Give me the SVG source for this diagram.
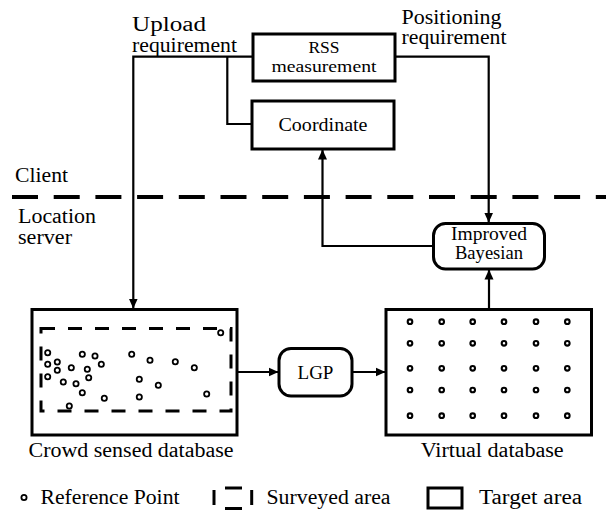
<svg xmlns="http://www.w3.org/2000/svg" width="606" height="511" viewBox="0 0 606 511">
<style>
text{font-family:'Liberation Serif','Times New Roman',Tinos,'DejaVu Serif','Noto Serif',FreeSerif,serif;fill:#000}
.lbl{font-size:20px}
.box{font-size:19px;text-anchor:middle}
.sm{font-size:17.5px}
.b{fill:#fff;stroke:#000;stroke-width:3}
.c{fill:none;stroke:#000;stroke-width:2.2}
.rp{fill:none;stroke:#000;stroke-width:1.8}
.vp{fill:none;stroke:#000;stroke-width:2.1}
</style>
<defs>
<marker id="ah" markerWidth="10" markerHeight="10" refX="10" refY="5" orient="auto" markerUnits="userSpaceOnUse">
<path d="M0,0.5 L10,5 L0,9.5 z" fill="#000"/>
</marker>
</defs>
<rect width="606" height="511" fill="#fff"/>

<g id="labels">
<text class="lbl" x="132" y="30.7" textLength="74" lengthAdjust="spacingAndGlyphs">Upload</text>
<text class="lbl" x="132" y="51.5" textLength="105" lengthAdjust="spacingAndGlyphs">requirement</text>
<text class="lbl" x="401.5" y="23.5" textLength="100" lengthAdjust="spacingAndGlyphs">Positioning</text>
<text class="lbl" x="401.5" y="43.5" textLength="105" lengthAdjust="spacingAndGlyphs">requirement</text>
<text class="lbl" x="15" y="181.7" textLength="53" lengthAdjust="spacingAndGlyphs">Client</text>
<text class="lbl" x="18" y="223.3" textLength="78" lengthAdjust="spacingAndGlyphs">Location</text>
<text class="lbl" x="18" y="243.5" textLength="54" lengthAdjust="spacingAndGlyphs">server</text>
</g>

<line x1="12" y1="197" x2="606" y2="197" stroke="#000" stroke-width="4" stroke-dasharray="26 15.7"/>

<g id="connectors">
<path class="c" d="M253 56.7 H133.3 V308.5" marker-end="url(#ah)"/>
<path class="c" d="M227.3 56.7 V124 H252"/>
<path class="c" d="M395 56.7 H488.7 V222.5" marker-end="url(#ah)"/>
<path class="c" d="M433 246 H322.5 V149.5" marker-end="url(#ah)"/>
<path class="c" d="M489 309 V269.5" marker-end="url(#ah)"/>
<path class="c" d="M237 372 H278.5" marker-end="url(#ah)"/>
<path class="c" d="M352 372 H385.5" marker-end="url(#ah)"/>
</g>

<g id="rss">
<rect class="b" x="253" y="34" width="142" height="47"/>
<text class="box sm" x="324" y="52.5">RSS</text>
<text class="box sm" x="324" y="72" textLength="105" lengthAdjust="spacingAndGlyphs">measurement</text>
</g>

<g id="coordinate">
<rect class="b" x="252" y="101" width="142" height="48"/>
<text class="box" x="323" y="131" textLength="89" lengthAdjust="spacingAndGlyphs">Coordinate</text>
</g>

<g id="bayesian">
<rect class="b" x="433.5" y="223.5" width="111" height="45.5" rx="12"/>
<text class="box" x="489" y="240" textLength="76" lengthAdjust="spacingAndGlyphs">Improved</text>
<text class="box" x="489" y="259" textLength="68" lengthAdjust="spacingAndGlyphs">Bayesian</text>
</g>

<g id="lgp">
<rect class="b" x="279" y="348.5" width="73" height="47.5" rx="12"/>
<text class="box" x="315.5" y="378.5">LGP</text>
</g>

<g id="crowd">
<rect class="b" x="32" y="309.5" width="205" height="125.5"/>
<rect x="41" y="328.5" width="190" height="82.5" fill="none" stroke="#000" stroke-width="3" stroke-dasharray="14 13"/>
<g class="rp">
<circle cx="220.7" cy="332.7" r="2.6"/>
<circle cx="47.7" cy="352.7" r="2.6"/>
<circle cx="82.3" cy="354.3" r="2.6"/>
<circle cx="95" cy="356" r="2.6"/>
<circle cx="131.7" cy="354.3" r="2.6"/>
<circle cx="47.7" cy="364.3" r="2.6"/>
<circle cx="57.3" cy="362" r="2.6"/>
<circle cx="101.3" cy="364.3" r="2.6"/>
<circle cx="150" cy="360.3" r="2.6"/>
<circle cx="175.3" cy="361.7" r="2.6"/>
<circle cx="71.3" cy="367.7" r="2.6"/>
<circle cx="87.3" cy="369.3" r="2.6"/>
<circle cx="57.3" cy="370.3" r="2.6"/>
<circle cx="194.3" cy="367.7" r="2.6"/>
<circle cx="47.7" cy="376.7" r="2.6"/>
<circle cx="88.7" cy="377.7" r="2.6"/>
<circle cx="139.3" cy="379.3" r="2.6"/>
<circle cx="63.3" cy="382" r="2.6"/>
<circle cx="76" cy="383.7" r="2.6"/>
<circle cx="158.3" cy="385.3" r="2.6"/>
<circle cx="82.3" cy="392.7" r="2.6"/>
<circle cx="206.7" cy="394" r="2.6"/>
<circle cx="104.3" cy="398.3" r="2.6"/>
<circle cx="139.3" cy="397" r="2.6"/>
<circle cx="69.3" cy="406" r="2.6"/>
</g>
<text class="lbl" x="28.5" y="456.7" textLength="205" lengthAdjust="spacingAndGlyphs">Crowd sensed database</text>
</g>

<g id="virtual">
<rect class="b" x="386" y="309.5" width="205.5" height="125.5"/>
<g class="vp">
<circle cx="410" cy="321.7" r="2.3"/><circle cx="441.7" cy="321.7" r="2.3"/><circle cx="472.7" cy="321.7" r="2.3"/><circle cx="504" cy="321.7" r="2.3"/><circle cx="536" cy="321.7" r="2.3"/><circle cx="567.3" cy="321.7" r="2.3"/>
<circle cx="410" cy="343.3" r="2.3"/><circle cx="441.7" cy="343.3" r="2.3"/><circle cx="472.7" cy="343.3" r="2.3"/><circle cx="504" cy="343.3" r="2.3"/><circle cx="536" cy="343.3" r="2.3"/><circle cx="567.3" cy="343.3" r="2.3"/>
<circle cx="410" cy="368.3" r="2.3"/><circle cx="441.7" cy="368.3" r="2.3"/><circle cx="472.7" cy="368.3" r="2.3"/><circle cx="504" cy="368.3" r="2.3"/><circle cx="536" cy="368.3" r="2.3"/><circle cx="567.3" cy="368.3" r="2.3"/>
<circle cx="410" cy="390" r="2.3"/><circle cx="441.7" cy="390" r="2.3"/><circle cx="472.7" cy="390" r="2.3"/><circle cx="504" cy="390" r="2.3"/><circle cx="536" cy="390" r="2.3"/><circle cx="567.3" cy="390" r="2.3"/>
<circle cx="410" cy="415.7" r="2.3"/><circle cx="441.7" cy="415.7" r="2.3"/><circle cx="472.7" cy="415.7" r="2.3"/><circle cx="504" cy="415.7" r="2.3"/><circle cx="536" cy="415.7" r="2.3"/><circle cx="567.3" cy="415.7" r="2.3"/>
</g>
<text class="lbl" x="420.7" y="456.7" textLength="143" lengthAdjust="spacingAndGlyphs">Virtual database</text>
</g>

<g id="legend">
<circle class="rp" cx="24" cy="497.5" r="2.6"/>
<text class="lbl" x="40.5" y="504" textLength="139" lengthAdjust="spacingAndGlyphs">Reference Point</text>
<g stroke="#000" stroke-width="3">
<line x1="214" y1="490" x2="214" y2="505"/>
<line x1="251.7" y1="490" x2="251.7" y2="505"/>
<line x1="225" y1="488" x2="242" y2="488"/>
<line x1="225" y1="508.5" x2="242" y2="508.5"/>
</g>
<text class="lbl" x="266.5" y="504" textLength="124" lengthAdjust="spacingAndGlyphs">Surveyed area</text>
<rect x="428" y="488" width="34" height="20" fill="none" stroke="#000" stroke-width="3"/>
<text class="lbl" x="479" y="504" textLength="103" lengthAdjust="spacingAndGlyphs">Target area</text>
</g>
</svg>
